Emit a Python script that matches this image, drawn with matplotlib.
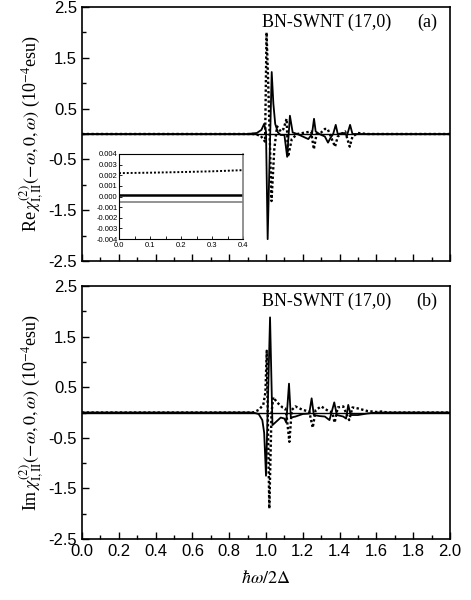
import matplotlib
matplotlib.use("Agg")
import matplotlib.pyplot as plt
from matplotlib.ticker import MultipleLocator, FixedLocator

plt.rcParams["font.family"] = ["Liberation Sans", "DejaVu Sans"]
plt.rcParams["mathtext.fontset"] = "stix"

# Re part, panel (a)
re_solid_x = [0.0, 0.90, 0.95, 0.975, 0.99, 1.0, 1.009, 1.031, 1.04, 1.05, 1.065,
              1.08, 1.10, 1.115, 1.13, 1.145, 1.17, 1.20, 1.23, 1.25, 1.261, 1.27,
              1.29, 1.32, 1.337, 1.35, 1.365, 1.379, 1.39, 1.42, 1.44, 1.457, 1.47,
              1.50, 1.55, 2.0]
re_solid_y = [0.0, 0.0, 0.02, 0.08, 0.2, 0.05, -2.07, 1.22, 0.6, 0.2, 0.03,
              -0.02, -0.02, -0.45, 0.36, 0.03, 0.0, -0.05, -0.1, 0.0, 0.3, 0.05,
              0.0, -0.05, -0.17, -0.08, 0.0, 0.18, 0.0, 0.02, -0.03, 0.18, 0.0,
              0.0, 0.0, 0.0]
re_dot_x = [0.0, 0.93, 0.97, 0.995, 1.003, 1.012, 1.03, 1.045, 1.06, 1.08, 1.095,
            1.112, 1.12, 1.14, 1.17, 1.20, 1.245, 1.26, 1.275, 1.30, 1.32, 1.335,
            1.375, 1.39, 1.43, 1.455, 1.47, 1.50, 1.55, 2.0]
re_dot_y = [0.0, 0.0, -0.03, -0.15, 2.0, 1.0, -1.32, -0.3, 0.15, 0.05, 0.1,
            0.3, -0.45, -0.1, 0.0, 0.02, 0.05, -0.3, 0.0, 0.03, 0.1, 0.1,
            -0.25, -0.05, 0.05, -0.25, -0.05, 0.02, 0.0, 0.0]

# Im part, panel (b)
im_solid_x = [0.0, 0.93, 0.96, 0.98, 0.99, 1.0, 1.022, 1.035, 1.05, 1.08, 1.10,
              1.11, 1.125, 1.135, 1.16, 1.20, 1.235, 1.248, 1.26, 1.29, 1.32,
              1.345, 1.371, 1.385, 1.42, 1.435, 1.447, 1.46, 1.50, 1.55, 1.60, 2.0]
im_solid_y = [0.0, 0.0, -0.03, -0.15, -0.4, -1.25, 1.88, -0.25, -0.2, -0.1, -0.12,
              -0.2, 0.57, -0.1, -0.08, -0.03, -0.02, 0.28, -0.05, -0.07, -0.08,
              -0.15, 0.2, -0.05, -0.08, -0.12, 0.15, -0.05, -0.05, -0.02, 0.0, 0.0]
im_dot_x = [0.0, 0.93, 0.96, 0.985, 0.997, 1.004, 1.018, 1.03, 1.04, 1.06, 1.09,
            1.105, 1.113, 1.127, 1.14, 1.16, 1.20, 1.235, 1.254, 1.27, 1.30, 1.33,
            1.36, 1.373, 1.39, 1.42, 1.44, 1.452, 1.47, 1.50, 1.55, 1.60, 1.63,
            1.66, 2.0]
im_dot_y = [0.0, 0.0, 0.05, 0.15, 0.4, 1.22, -1.9, 0.0, 0.3, 0.2, 0.1,
            0.08, -0.1, -0.58, 0.05, 0.12, 0.05, 0.02, -0.3, 0.05, 0.12, 0.05,
            0.0, -0.2, 0.1, 0.12, -0.05, -0.15, 0.1, 0.08, 0.03, 0.01, 0.02,
            0.0, 0.0]

# low-frequency detail for the inset
inset_x = [0.0, 0.1, 0.2, 0.3, 0.4]
inset_dot = [0.00220, 0.00224, 0.00230, 0.00237, 0.00248]
inset_black = [0.0001, 0.0001, 0.0001, 0.0001, 0.0001]
inset_gray = [-0.0005, -0.0005, -0.0005, -0.0005, -0.0005]

y_ticks = [-2.5, -1.5, -0.5, 0.5, 1.5, 2.5]
x_ticks = [0.0, 0.2, 0.4, 0.6, 0.8, 1.0, 1.2, 1.4, 1.6, 1.8, 2.0]

W, H = 471, 600
fig = plt.figure(figsize=(W / 100, H / 100), dpi=100)

DOTS = (0, (1.0, 1.0))


def px_axes(x0, y0, x1, y1):
    return fig.add_axes([x0 / W, 1 - y1 / H, (x1 - x0) / W, (y1 - y0) / H])


def style_main(ax, show_xlabels):
    ax.set_xlim(0, 2)
    ax.set_ylim(-2.5, 2.5)
    ax.yaxis.set_major_locator(FixedLocator(y_ticks))
    ax.yaxis.set_minor_locator(MultipleLocator(0.5))
    ax.xaxis.set_major_locator(FixedLocator(x_ticks))
    ax.xaxis.set_minor_locator(MultipleLocator(0.1))
    ax.tick_params(which="both", direction="in", top=False, right=False,
                   labelsize=12, width=1.0)
    ax.tick_params(which="major", length=5)
    ax.tick_params(which="minor", length=3)
    ax.set_yticklabels([f"{v:.1f}" for v in y_ticks])
    if show_xlabels:
        ax.set_xticklabels([f"{v:.1f}" for v in x_ticks])
    else:
        ax.set_xticklabels([])
    for s in ax.spines.values():
        s.set_linewidth(1.2)


def panel_text(ax, tag):
    ax.text(0.49, 0.94, "BN-SWNT (17,0)", transform=ax.transAxes,
            family="Liberation Serif", fontsize=13, va="center", ha="left")
    ax.text(0.965, 0.94, tag, transform=ax.transAxes,
            family="Liberation Serif", fontsize=13, va="center", ha="right")


ax1 = px_axes(82, 7, 450, 261)
ax1.plot(re_solid_x, re_solid_y, color="black", lw=1.3)
ax1.plot(re_dot_x, re_dot_y, color="black", lw=1.7, ls=DOTS)
ax1.axhline(0, color="black", lw=1.0)
style_main(ax1, False)
panel_text(ax1, "(a)")
ax1.set_ylabel(r"Re$\,\chi^{(2)}_{\rm I,II}(-\omega,0,\omega)$ (10$^{-4}$esu)",
               family="Liberation Serif", fontsize=13, labelpad=2)

ax2 = px_axes(82, 286, 450, 539)
ax2.plot(im_solid_x, im_solid_y, color="black", lw=1.3)
ax2.plot(im_dot_x, im_dot_y, color="black", lw=1.7, ls=DOTS)
ax2.axhline(0, color="black", lw=1.0)
style_main(ax2, True)
panel_text(ax2, "(b)")
ax2.set_ylabel(r"Im$\,\chi^{(2)}_{\rm I,II}(-\omega,0,\omega)$ (10$^{-4}$esu)",
               family="Liberation Serif", fontsize=13, labelpad=2)
ax2.set_xlabel(r"$\hbar\omega/2\Delta$", fontsize=13, labelpad=8)

# inset in panel (a)
axi = px_axes(119, 154, 243, 239)
axi.plot(inset_x, inset_dot, color="black", lw=1.4, ls=DOTS)
axi.plot(inset_x, inset_black, color="black", lw=1.8)
axi.plot(inset_x, inset_gray, color="gray", lw=1.2)
axi.set_xlim(0, 0.4)
axi.set_ylim(-0.004, 0.004)
axi.xaxis.set_major_locator(MultipleLocator(0.1))
axi.xaxis.set_minor_locator(MultipleLocator(0.05))
axi.yaxis.set_major_locator(MultipleLocator(0.001))
axi.tick_params(which="both", direction="in", top=False, right=False,
                labelsize=5.5, length=2, width=0.6, pad=1)
axi.tick_params(axis="x", pad=2.5)
axi.set_xticklabels([f"{v:.1f}" for v in axi.get_xticks()])
axi.set_yticklabels([f"{v:.3f}" for v in axi.get_yticks()])
for s in axi.spines.values():
    s.set_linewidth(0.8)
axi.spines["right"].set_color("gray")
axi.spines["right"].set_linewidth(1.2)

fig.savefig("out.png", dpi=100)
